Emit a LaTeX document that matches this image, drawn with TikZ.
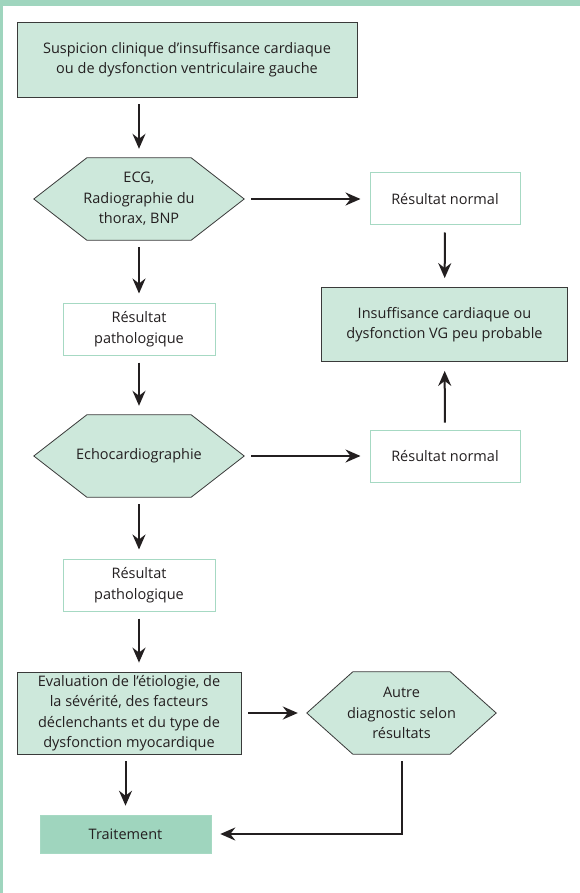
\documentclass[tikz,border=0pt]{standalone}
\usepackage{fontspec}
\setmainfont{Open Sans}
\usetikzlibrary{arrows.meta}
\definecolor{bandgreen}{HTML}{9FD5BE}
\definecolor{palegreen}{HTML}{CDE8DB}
\definecolor{edgegreen}{HTML}{A6D9C3}
\definecolor{darkedge}{HTML}{3A3A3A}
\definecolor{inkgray}{HTML}{231F20}
\tikzset{
  txt/.style={align=center, text=inkgray, inner sep=0pt,
    font=\fontsize{14.5}{20.5}\selectfont},
  darkbox/.style={txt, draw=darkedge, line width=0.8pt, fill=palegreen},
  resbox/.style={txt, draw=edgegreen, line width=1pt, fill=white},
  hexnode/.style={txt},
  hexpath/.style={draw=darkedge, line width=0.8pt, fill=palegreen},
  flow/.style={line width=2pt, inkgray,
    -{Stealth[length=15pt,width=13pt,inset=5pt]},
    shorten <=7pt, shorten >=9pt}
}
% hexagon behind a named node: #1 node, #2 slant
\newcommand{\hexback}[2]{%
  \fill[palegreen] (#1.west) -- ([xshift=#2]#1.north west) -- ([xshift=-#2]#1.north east)
    -- (#1.east) -- ([xshift=-#2]#1.south east) -- ([xshift=#2]#1.south west) -- cycle;
  \draw[hexpath, fill=none] (#1.west) -- ([xshift=#2]#1.north west) -- ([xshift=-#2]#1.north east)
    -- (#1.east) -- ([xshift=-#2]#1.south east) -- ([xshift=#2]#1.south west) -- cycle;}
\begin{document}
\begin{tikzpicture}[x=1pt, y=-1pt]
\useasboundingbox (0,0) rectangle (580,893);
\fill[white] (0,0) rectangle (580,893);
\fill[bandgreen] (0,0) rectangle (580,6);
\fill[bandgreen] (0,0) rectangle (2.5,893);

% nodes
\node[darkbox, minimum width=340pt, minimum height=75pt] (susp) at (187,59.5)
  {Suspicion clinique d'insuffisance cardiaque\\ou de dysfonction ventriculaire gauche};
\node[hexnode, minimum width=210pt, minimum height=82pt] (ecg) at (139,199) {};
\node[resbox, minimum width=150pt, minimum height=52pt] (norm1) at (445,199) {Résultat normal};
\node[darkbox, minimum width=246pt, minimum height=74pt] (improb) at (444.5,324.5)
  {Insuffisance cardiaque ou\\dysfonction VG peu probable};
\node[resbox, minimum width=152pt, minimum height=52pt] (path1) at (139,329) {Résultat\\pathologique};
\node[hexnode, minimum width=210pt, minimum height=82pt] (echo) at (139,456) {};
\node[resbox, minimum width=150pt, minimum height=52pt] (norm2) at (445,456) {Résultat normal};
\node[resbox, minimum width=152pt, minimum height=52pt] (path2) at (139,585) {Résultat\\pathologique};
\node[darkbox, minimum width=224pt, minimum height=82pt] (eval) at (129,713)
  {Evaluation de l'étiologie, de\\la sévérité, des facteurs\\déclenchants et du type de\\dysfonction myocardique};
\node[hexnode, minimum width=189pt, minimum height=82pt] (autre) at (401.5,713) {};
\node[txt, fill=bandgreen, draw=edgegreen, line width=0.6pt,
  minimum width=171pt, minimum height=38pt] (trait) at (125.5,834) {Traitement};

% hexagons
\hexback{ecg}{53}
\hexback{echo}{53}
\hexback{autre}{46}
\node[txt] at (ecg) {ECG,\\Radiographie du\\thorax, BNP};
\node[txt] at (echo) {Echocardiographie};
\node[txt] at (autre) {Autre\\diagnostic selon\\résultats};

% connectors
\draw[flow] (ecg.north |- susp.south) -- (ecg.north);
\draw[flow] (ecg) -- (norm1);
\draw[flow] (norm1) -- (improb);
\draw[flow] (ecg) -- (path1);
\draw[flow] (path1) -- (echo);
\draw[flow] (echo) -- (norm2);
\draw[flow] (norm2) -- (improb);
\draw[flow] (echo) -- (path2);
\draw[flow] (path2.south) -- (path2.south |- eval.north);
\draw[flow] (eval) -- (autre);
\draw[flow] (trait.north |- eval.south) -- (trait.north);
\draw[flow] (autre.south) -- (autre.south |- trait.east) -- (trait.east);
\end{tikzpicture}
\end{document}
